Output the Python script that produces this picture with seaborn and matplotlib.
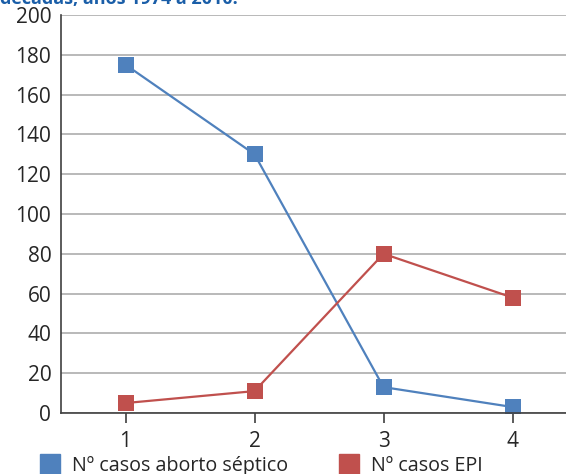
import numpy as np
import pandas as pd
import seaborn as sns
import matplotlib.pyplot as plt
from matplotlib.lines import Line2D

periodos = [1, 2, 3, 4]
aborto_septico = [175, 130, 13, 3]
casos_epi = [5, 11, 80, 58]
etiquetas = ["Nº casos aborto séptico", "Nº casos EPI"]
colores = ["#4F81BD", "#C0504D"]

sns.set_style("white")
plt.rcParams["font.family"] = ["Open Sans", "DejaVu Sans"]

fig = plt.figure(figsize=(5.66, 4.74), dpi=100)
ax = fig.add_axes([0.1078, 0.1287, 0.9117, 0.8397])

df = pd.DataFrame({"periodo": periodos, "aborto": aborto_septico, "epi": casos_epi})
sns.lineplot(data=df, x="periodo", y="aborto", ax=ax, color=colores[0],
             marker="s", markersize=11.5, markeredgewidth=0, linewidth=1.6)
sns.lineplot(data=df, x="periodo", y="epi", ax=ax, color=colores[1],
             marker="s", markersize=11.5, markeredgewidth=0, linewidth=1.6)

ax.set_xlim(0.5, 4.5)
ax.set_ylim(0, 200)
ax.set_yticks(np.arange(0, 201, 20))
ax.set_xticks(periodos)
ax.set_xlabel("")
ax.set_ylabel("")
ax.yaxis.grid(True, color="#B3B3B3", linewidth=1.3)
ax.set_axisbelow(True)
for s in ["top", "right"]:
    ax.spines[s].set_visible(False)
for s in ["left", "bottom"]:
    ax.spines[s].set_color("#404040")
    ax.spines[s].set_linewidth(1.2)
ax.tick_params(axis="y", length=0, pad=7, labelsize=15)
ax.tick_params(axis="x", length=7, width=1.2, color="#404040", pad=6,
               labelsize=15, bottom=True)

handles = [Line2D([], [], marker="s", linestyle="", color=c, markersize=15)
           for c in colores]
fig.legend(handles, etiquetas, loc="upper left", bbox_to_anchor=(0.057, 0.055),
           ncol=2, frameon=False, fontsize=14.2, handletextpad=0.6,
           columnspacing=2.6, borderaxespad=0, handlelength=1.0)

fig.text(0.0, 1 - 4.5 / 474, "décadas, años 1974 a 2010.", color="#1A5EA8",
         fontsize=13, fontweight="bold", va="baseline", ha="left")

fig.savefig("out.png", dpi=100)
